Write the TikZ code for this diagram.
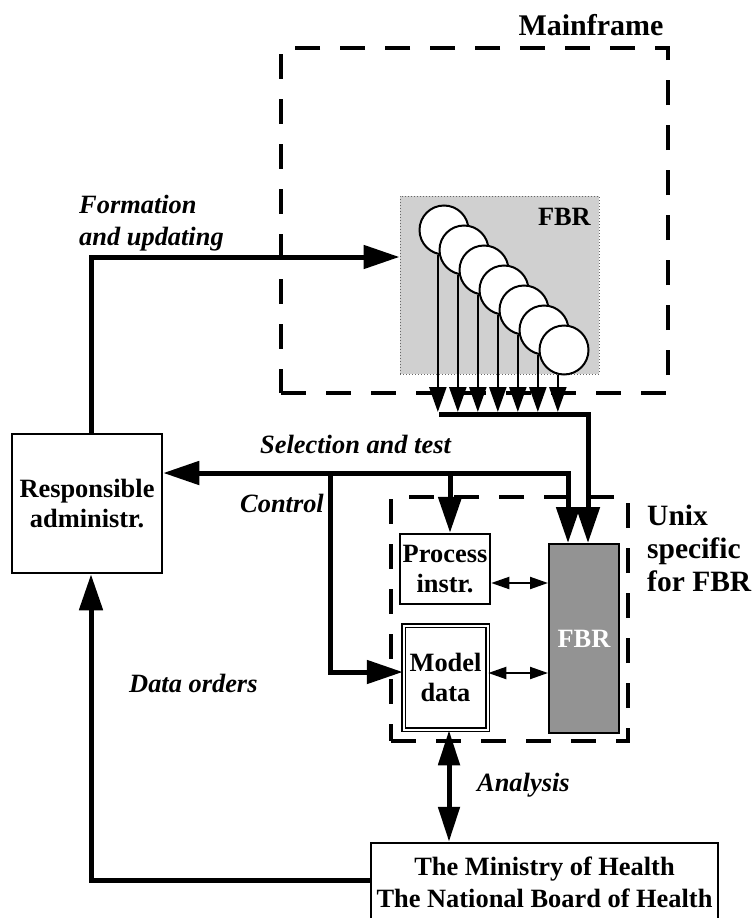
\documentclass[tikz,border=0pt]{standalone}
\usepackage{fontspec}
\setmainfont{Liberation Serif}
\usetikzlibrary{arrows.meta}
\definecolor{panelgray}{HTML}{D0D0D0}
\definecolor{storegray}{HTML}{939393}
\begin{document}
\begin{tikzpicture}[x=1pt,y=-1pt,
  txt/.style={font=\fontsize{26.4}{30}\selectfont\bfseries},
  itl/.style={font=\fontsize{26.4}{30}\selectfont\bfseries\itshape, inner sep=0pt, anchor=base west},
  tag/.style={font=\fontsize{29.5}{33}\selectfont\bfseries, inner sep=0pt, anchor=base west},
  hdr/.style={font=\fontsize{30}{34}\selectfont\bfseries, inner sep=0pt, anchor=base},
  box/.style={draw, line width=2.5pt, fill=white, inner sep=0pt, align=center, txt},
  zone/.style={draw, line width=4pt, dash pattern=on 25pt off 20pt, inner sep=0pt},
  flow/.style={line width=5pt, -{Triangle[length=36pt,width=23pt]}},
  fork/.style={line width=5pt, {Triangle[length=36pt,width=23pt]}-{Triangle[length=36pt,width=23pt]}},
  twoway/.style={line width=5pt, {Triangle[length=35pt,width=21pt]}-{Triangle[length=35pt,width=21pt]}},
  link/.style={line width=2pt, {Triangle[length=18pt,width=12pt]}-{Triangle[length=18pt,width=12pt]}},
  feed/.style={line width=2.5pt, -{Triangle[length=25pt,width=17pt]}},
  rec/.style={circle, draw, line width=2pt, fill=white, minimum size=49pt, inner sep=0pt},
]
\useasboundingbox (0,0) rectangle (755,918);

% dashed system boundaries
\node[zone, minimum width=387pt, minimum height=345pt] (mainframe) at (474.5,220.5) {};
\node[hdr] (mflabel) at (591,35) {Mainframe};
\node[zone, minimum width=237pt, minimum height=244pt] (unix) at (509.5,619) {};
\node[tag] (unix1) at (647,525) {Unix};
\node[tag] (unix2) at (647,558) {specific};
\node[tag] (unix3) at (647,591) {for FBR};

% register on the mainframe: stack of record files
\node[fill=panelgray, draw=black!60, dotted, line width=1pt, minimum width=199pt,
      minimum height=178pt, inner sep=0pt] (fbrm) at (499.5,285) {};
\node[txt, inner sep=0pt, anchor=base east] (fbrmlabel) at (591,225) {FBR};
\foreach \i in {0,...,6} {
  \node[rec] (c\i) at ({444+20*\i},{230+20*\i}) {};
}
\coordinate (tips) at (439,412);
\foreach \i in {0,...,6} {
  \draw[feed] (c\i.256) -- (c\i.256 |- tips);
}

% boxes
\node[box, minimum width=150pt, minimum height=139pt] (resp) at (87,503.5)
  {Responsible\\administr.};
\node[box, minimum width=90pt, minimum height=70pt] (proc) at (445,569)
  {Process\\instr.};
\node[draw, line width=1.5pt, double=white, double distance=2pt, fill=white,
      inner sep=0pt, align=center, txt, minimum width=84pt, minimum height=104pt]
  (model) at (445.5,677.5) {Model\\data};
\node[draw, line width=2pt, fill=storegray, text=white, txt, inner sep=0pt,
      minimum width=70pt, minimum height=189pt] (fbru) at (584,638.5) {FBR};
\node[box, font=\fontsize{26.4}{32}\selectfont\bfseries, minimum width=347pt,
      minimum height=78pt] (ministry) at (544.5,882)
  {The Ministry of Health\\The National Board of Health};

% formation and updating
\draw[flow] ([xshift=4pt]resp.north) |- ([yshift=28pt]fbrm.west);
\node[itl] (form1) at (79,213) {Formation};
\node[itl] (form2) at (79,245) {and updating};

% mainframe extract into the Unix register
\coordinate (mj) at (439,414);
\draw[flow] (mj) -| ([xshift=4pt]fbru.north);

% selection and test, control
\coordinate (sel) at ([yshift=30.5pt]resp.east);
\draw[fork] (sel) -| ([xshift=-16pt]fbru.north);
\coordinate (pj) at ([xshift=5pt]proc.north);
\draw[flow] (pj |- sel) -- (pj);
\coordinate (ctl) at (330,473);
\draw[flow] (ctl) |- ([yshift=5.5pt]model.west);
\node[itl] (seltxt) at (260,453) {Selection and test};
\node[itl] (ctltxt) at (240,512) {Control};

% links inside the Unix environment
\coordinate (pe) at ([yshift=-14pt]proc.east);
\draw[link] (pe) -- (pe -| fbru.west);
\coordinate (me) at ([yshift=4.5pt]model.east);
\draw[link] (me) -- (me -| fbru.west);

% analysis
\coordinate (an) at ([xshift=3.5pt]model.south);
\draw[twoway] (an) -- (an |- ministry.north);
\node[itl] (antxt) at (477,791) {Analysis};

% data orders
\draw[flow] ([yshift=2pt]ministry.west) -| ([xshift=4pt]resp.south);
\node[itl] (dotxt) at (129,692) {Data orders};
\end{tikzpicture}
\end{document}
